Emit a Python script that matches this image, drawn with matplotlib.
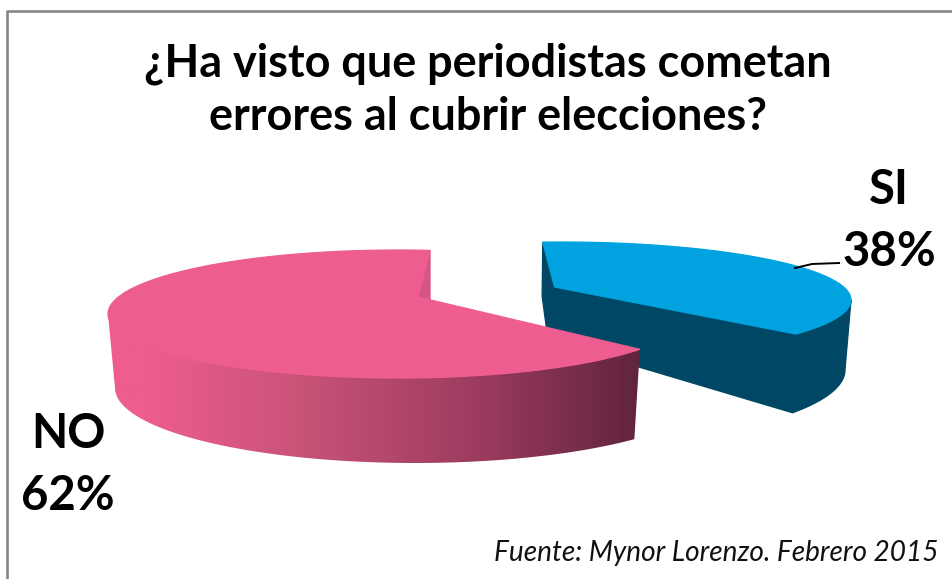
import numpy as np
import matplotlib
matplotlib.use('Agg')
import matplotlib.pyplot as plt
from matplotlib.colors import LinearSegmentedColormap
from matplotlib.patches import Polygon

# data
labels = ['SI', 'NO']
shares = [38, 62]
title = '¿Ha visto que periodistas cometan\nerrores al cubrir elecciones?'
source = 'Fuente: Mynor Lorenzo. Febrero 2015'

plt.rcParams['font.family'] = ['Lato', 'DejaVu Sans']

W, H = 953, 579
fig = plt.figure(figsize=(W / 100, H / 100), dpi=100)
ax = fig.add_axes([0, 0, 1, 1])


def rim(e, deg):
    t = np.radians(deg)
    return np.column_stack([e[0] + e[2] * np.cos(t), e[1] - e[3] * np.sin(t)])


def poly(pts, color, z):
    p = Polygon(pts, closed=True, fc=color, ec=color, lw=0.9, zorder=z)
    ax.add_patch(p)
    return p


# perspective squeezes the back slice and stretches the front one
si_from = 93.6
si_to = si_from - shares[0] * 3.6 * 0.947
no_from = -33.5
no_to = no_from - shares[1] * 3.6 * 1.088

# SI slice, pulled to the right
si_top = (561, 300, 290, 58)
si_bot = (560, 370, 285, 74)
si_apex = (554.5, 287)
si_apex_bot = (548, 340)
dark = '#004766'
a = rim(si_top, si_from)
b = rim(si_top, si_to)
s0 = rim(si_bot, si_from)
arc = rim(si_top, np.linspace(si_to, 0, 40))
low = rim(si_bot, np.linspace(0, -90, 80))
low = low[low[:, 0] >= b[0][0] - 5]
poly([a[0], si_apex, si_apex_bot, s0[0]], dark, 1)
poly([si_apex, b[0], low[-1], si_apex_bot], dark, 1)
poly(np.vstack([arc, low]), dark, 1)
poly(np.vstack([[si_apex], rim(si_top, np.linspace(si_from, si_to, 120))]), '#00a3e0', 2)

# NO slice
no_top = (398, 314, 290, 64)
no_bot = (415, 388, 300, 75)
no_apex = (418, 297)
pink = '#ee5d8f'
a = rim(no_top, no_to)
b = rim(no_top, no_from)
poly([a[0], no_apex, [no_apex[0], no_apex[1] + 60], [a[0][0], a[0][1] + 60]], '#d55584', 3)
arc = rim(no_top, np.linspace(180, no_from + 360, 80))
low = rim(no_bot, np.linspace(360, 180, 160))
low = low[low[:, 0] <= b[0][0] - 2]
side = Polygon(np.vstack([arc, low]), closed=True, fc='none', ec='none', zorder=3)
ax.add_patch(side)
grad = LinearSegmentedColormap.from_list('side', [(0, pink), (0.07, pink), (0.36, '#c95378'),
                                                  (0.7, '#9c3b5f'), (1, '#60243e')])
im = ax.imshow(np.linspace(0, 1, 256).reshape(1, -1), cmap=grad, aspect='auto',
               extent=[108, 640, 470, 300], zorder=3)
im.set_clip_path(side)
poly(np.vstack([[no_apex], rim(no_top, np.linspace(no_from, no_to, 160))]), pink, 4)

# leader line
ax.plot([795, 812, 839], [268, 264, 263], color='black', lw=1.4, zorder=5)

# labels
bold = dict(fontweight='bold', ha='center', va='center', color='black')
ax.text(889, 221, f'{labels[0]}\n{shares[0]}%', fontsize=34, linespacing=1.5, **bold)
ax.text(68, 465, f'{labels[1]}\n{shares[1]}%', fontsize=34, linespacing=1.5, **bold)
ax.text(488, 90, title, fontsize=32.4, linespacing=1.31, **bold)
ax.text(939, 553, source, fontsize=20.2, style='italic', ha='right', va='center', color='#111111')

# chart frame, only left and top show in the crop
ax.plot([7, 7, W], [H, 11, 11], color='#868686', lw=1.9, zorder=6)

ax.set_xlim(0, W)
ax.set_ylim(H, 0)
ax.axis('off')
fig.savefig('out.png', dpi=100)
